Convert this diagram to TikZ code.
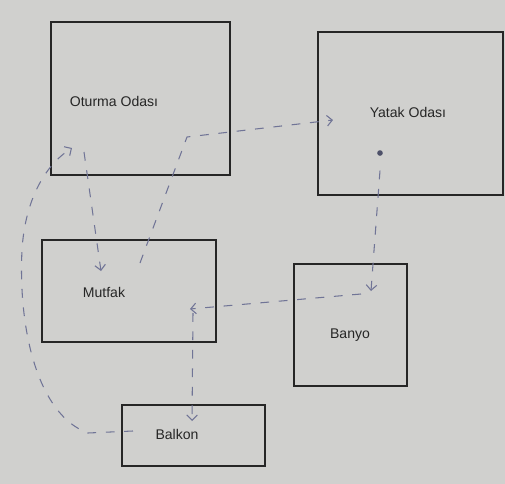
\documentclass[tikz,border=0pt]{standalone}
\usepackage{fontspec}
\setmainfont{Liberation Sans}
\usetikzlibrary{arrows,arrows.meta,positioning}
\definecolor{paper}{RGB}{208,208,206}
\definecolor{pen}{RGB}{112,116,150}
\definecolor{ink}{RGB}{38,38,38}

\begin{document}
\begin{tikzpicture}[x=0.02cm,y=-0.02cm,
  room/.style={draw=ink,line width=1.1pt,inner sep=0pt},
  lbl/.style={font=\fontsize{8}{10}\selectfont,text=ink},
  flow/.style={draw=pen,dash pattern=on 5pt off 5.5pt,line width=0.6pt,
    -{Straight Barb[length=3pt,width=6pt]}}]
% Background (photo paper)
\fill[paper] (0,0) rectangle (505,484);

% Rooms
\node[room,minimum width=3.58cm,minimum height=3.06cm] (oturma) at (140.5,98.5) {};
\node[room,minimum width=3.7cm,minimum height=3.26cm] (yatak) at (410.5,113.5) {};
\node[room,minimum width=3.48cm,minimum height=2.04cm] (mutfak) at (129,291) {};
\node[room,minimum width=2.26cm,minimum height=2.44cm] (banyo) at (350.5,325) {};
\node[room,minimum width=2.86cm,minimum height=1.22cm] (balkon) at (193.5,435.5) {};

% Room names
\node[lbl] (oturma-t) at (114,101) {Oturma Odası};
\node[lbl] (yatak-t) at (408,112) {Yatak Odası};
\node[lbl] (mutfak-t) at (104,292) {Mutfak};
\node[lbl] (banyo-t) at (350,335) {Banyo};
\node[lbl] (balkon-t) at (177,434) {Balkon};

% Ends of the paths
\coordinate (o1) at (84,152);
\coordinate (o2) at (72,148);
\coordinate (m1) at (101,271);
\coordinate (m2) at (140,263);
\coordinate (m3) at (190,309);
\coordinate (m4) at (193,313);
\coordinate (c2) at (187,137);
\coordinate (y1) at (333,120);
\coordinate (y2) at (380,153);
\coordinate (b1) at (371,291);
\coordinate (b2) at (361,294);
\coordinate (k1) at (192,421);
\coordinate (k2) at (133,431);

% Dot in Yatak Odasi
\fill[pen!70!black] (y2) circle (1.6pt);

% Paths
\draw[flow] (o1) -- (m1);
\draw[flow] (m2) -- (c2) -- (y1);
\draw[flow] ([yshift=-10]y2) -- (b1);
\draw[flow] (b2) -- (m3);
\draw[flow] (m4) -- (k1);
\draw[flow] (k2) -- (88,433) .. controls (38,415) and (18,330) .. (22,250)
  .. controls (25,200) and (45,165) .. (o2);
\end{tikzpicture}
\end{document}
